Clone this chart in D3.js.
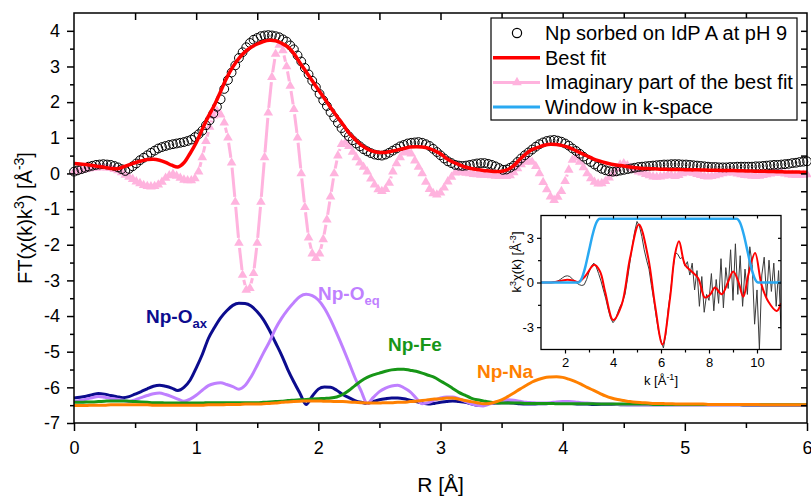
<!DOCTYPE html>
<html>
<head>
<meta charset="utf-8">
<script src="https://cdn.jsdelivr.net/npm/d3@7"></script>
<style>
  body { margin: 0; background: #fff; }
  svg { display: block; font-family: Arial, 'Liberation Sans', sans-serif; }
</style>
</head>
<body>
<div id="wrapper"></div>
<script>
'use strict';

//#region DATA
// R grid of the measured FT (step 0.03 A) and of the fit/paths (step 0.05 A)
const rStepData = 0.03;
const rStepFit = 0.05;

const dataFT = [
  0.05,0.085,0.12,0.155,0.19,0.215,0.24,0.25,0.26,0.25,
  0.24,0.21,0.17,0.12,0.07,0.13,0.20,0.28,0.37,0.44,
  0.51,0.58,0.64,0.70,0.74,0.77,0.80,0.82,0.84,0.86,
  0.88,0.91,0.95,1.02,1.10,1.20,1.35,1.49,1.68,1.87,
  2.08,2.37,2.62,2.83,3.03,3.24,3.40,3.54,3.66,3.75,
  3.80,3.85,3.87,3.88,3.87,3.85,3.82,3.76,3.70,3.59,
  3.48,3.31,3.14,2.96,2.78,2.60,2.42,2.23,2.05,1.89,
  1.72,1.57,1.42,1.27,1.15,1.04,0.93,0.84,0.76,0.68,
  0.62,0.57,0.53,0.51,0.50,0.53,0.58,0.64,0.70,0.76,
  0.80,0.84,0.86,0.87,0.88,0.86,0.82,0.77,0.69,0.60,
  0.51,0.42,0.34,0.29,0.24,0.22,0.21,0.22,0.24,0.26,
  0.28,0.29,0.29,0.27,0.24,0.20,0.15,0.10,0.11,0.16,
  0.22,0.32,0.42,0.51,0.59,0.67,0.75,0.82,0.87,0.91,
  0.93,0.94,0.92,0.89,0.84,0.78,0.70,0.63,0.55,0.47,
  0.39,0.32,0.25,0.19,0.13,0.09,0.06,0.05,0.06,0.08,
  0.10,0.12,0.14,0.16,0.18,0.19,0.20,0.21,0.22,0.23,
  0.24,0.25,0.25,0.26,0.26,0.26,0.25,0.25,0.24,0.23,
  0.22,0.21,0.20,0.19,0.18,0.18,0.17,0.17,0.17,0.18,
  0.18,0.19,0.19,0.19,0.19,0.19,0.20,0.20,0.21,0.22,
  0.23,0.24,0.24,0.25,0.26,0.27,0.29,0.30,0.32,0.33,
  0.34
];

const imagFT = [
  0.05,0.07,0.09,0.11,0.13,0.15,0.16,0.17,0.17,0.16,
  0.15,0.12,0.08,0.03,-0.04,-0.10,-0.16,-0.23,-0.28,-0.33,
  -0.36,-0.37,-0.36,-0.32,-0.24,-0.13,-0.06,-0.02,-0.07,-0.13,
  -0.18,-0.20,-0.20,-0.14,0.05,0.45,0.90,1.30,1.62,1.75,
  1.65,1.42,1.00,0.30,-0.80,-1.95,-2.85,-3.27,-3.22,-2.80,
  -1.95,-0.80,0.45,1.70,2.70,3.35,3.60,3.45,3.00,2.45,
  1.80,1.00,0.00,-0.95,-1.80,-2.25,-2.38,-2.25,-1.85,-1.30,
  -0.65,0.00,0.50,0.82,0.86,0.76,0.60,0.45,0.30,0.18,
  0.05,-0.15,-0.32,-0.45,-0.50,-0.44,-0.27,0.05,0.28,0.45,
  0.58,0.62,0.55,0.36,0.18,0.00,-0.24,-0.44,-0.56,-0.60,
  -0.54,-0.40,-0.23,-0.10,0.02,0.05,0.03,0.01,0.00,-0.02,
  -0.03,-0.04,-0.04,-0.05,-0.06,-0.07,-0.08,-0.08,-0.08,-0.06,
  0.03,0.14,0.25,0.32,0.37,0.32,0.20,0.00,-0.25,-0.45,
  -0.65,-0.75,-0.66,-0.50,-0.22,0.10,0.38,0.44,0.32,0.17,
  0.00,-0.14,-0.24,-0.29,-0.28,-0.22,-0.12,-0.01,0.13,0.24,
  0.28,0.22,0.15,0.09,0.05,0.02,-0.02,-0.06,-0.09,-0.10,
  -0.09,-0.07,-0.05,-0.06,-0.08,-0.05,0.00,0.03,0.03,0.01,
  -0.02,-0.05,-0.08,-0.09,-0.08,-0.06,-0.03,0.00,0.02,0.03,
  0.02,-0.01,-0.03,-0.05,-0.06,-0.07,-0.08,-0.07,-0.05,-0.03,
  -0.01,0.01,0.02,0.01,-0.01,-0.03,-0.04,-0.05,-0.05,-0.04,
  -0.03
];

const fitFT = [
  0.28,0.265,0.25,0.22,0.195,0.17,0.14,0.13,0.18,0.24,
  0.30,0.35,0.39,0.40,0.37,0.31,0.23,0.18,0.30,0.56,
  0.86,1.24,1.60,1.92,2.30,2.68,2.99,3.23,3.41,3.54,
  3.63,3.70,3.735,3.72,3.65,3.55,3.36,3.10,2.85,2.60,
  2.35,2.10,1.85,1.61,1.38,1.14,0.96,0.80,0.69,0.62,
  0.59,0.59,0.62,0.66,0.70,0.74,0.75,0.74,0.71,0.64,
  0.55,0.42,0.32,0.25,0.18,0.14,0.11,0.085,0.07,0.055,
  0.06,0.11,0.22,0.40,0.55,0.67,0.73,0.79,0.82,0.81,
  0.78,0.73,0.65,0.57,0.49,0.41,0.35,0.30,0.26,0.23,
  0.21,0.18,0.16,0.14,0.135,0.13,0.12,0.115,0.11,0.11,
  0.105,0.10,0.10,0.095,0.09,0.09,0.085,0.08,0.08,0.075,
  0.07,0.065,0.06,0.06,0.055,0.05,0.045,0.04,0.04,0.035,
  0.03
];

// single scattering paths, shifted down by the plot
const oaxFT = [
  -6.30,-6.28,-6.25,-6.21,-6.17,-6.19,-6.23,-6.26,-6.29,-6.26,
  -6.19,-6.12,-6.04,-5.97,-5.94,-5.97,-6.02,-6.09,-6.00,-5.80,
  -5.46,-5.08,-4.63,-4.32,-4.05,-3.85,-3.70,-3.64,-3.65,-3.72,
  -3.88,-4.10,-4.40,-4.75,-5.10,-5.50,-5.85,-6.17,-6.48,-6.25,
  -6.05,-5.99,-6.00,-6.08,-6.20,-6.29,-6.37,-6.42,-6.45,-6.40,
  -6.35,-6.32,-6.30,-6.30,-6.32,-6.36,-6.40,-6.44,-6.47,-6.45,
  -6.42,-6.40,-6.38,-6.40,-6.42,-6.46,-6.50,-6.48,-6.45,-6.44,
  -6.43,-6.43,-6.44,-6.46,-6.47,-6.47,-6.46,-6.46,-6.45,-6.44,
  -6.44,-6.45,-6.46,-6.47,-6.47,-6.48,-6.48,-6.48,-6.48,-6.48,
  -6.49,-6.49,-6.49,-6.49,-6.49,-6.49,-6.49,-6.49,-6.49,-6.49,
  -6.49,-6.49,-6.49,-6.49,-6.49,-6.49,-6.49,-6.49,-6.49,-6.49,
  -6.50,-6.50,-6.50,-6.50,-6.50,-6.50,-6.50,-6.50,-6.50,-6.50,
  -6.50
];

const oeqFT = [
  -6.40,-6.37,-6.33,-6.29,-6.26,-6.28,-6.31,-6.33,-6.36,-6.40,
  -6.35,-6.29,-6.23,-6.18,-6.16,-6.20,-6.26,-6.33,-6.39,-6.33,
  -6.22,-6.08,-5.95,-5.89,-5.87,-5.92,-5.98,-6.05,-5.95,-5.70,
  -5.38,-5.04,-4.72,-4.35,-4.06,-3.82,-3.62,-3.45,-3.39,-3.43,
  -3.55,-3.78,-4.10,-4.48,-4.88,-5.30,-5.73,-6.10,-6.45,-6.28,
  -6.12,-6.02,-5.96,-5.94,-6.01,-6.12,-6.30,-6.46,-6.43,-6.36,
  -6.30,-6.27,-6.27,-6.32,-6.39,-6.46,-6.50,-6.52,-6.47,-6.42,
  -6.38,-6.35,-6.36,-6.39,-6.42,-6.43,-6.44,-6.44,-6.43,-6.41,
  -6.40,-6.40,-6.41,-6.43,-6.44,-6.45,-6.46,-6.47,-6.47,-6.48,
  -6.48,-6.49,-6.49,-6.49,-6.49,-6.49,-6.49,-6.49,-6.49,-6.49,
  -6.49,-6.49,-6.49,-6.49,-6.49,-6.49,-6.49,-6.49,-6.49,-6.49,
  -6.50,-6.50,-6.50,-6.50,-6.50,-6.50,-6.50,-6.50,-6.50,-6.50,
  -6.50
];

const feFT = [
  -6.42,-6.42,-6.41,-6.41,-6.40,-6.39,-6.38,-6.38,-6.38,-6.39,
  -6.40,-6.41,-6.42,-6.43,-6.43,-6.44,-6.44,-6.44,-6.44,-6.44,
  -6.44,-6.44,-6.43,-6.43,-6.43,-6.43,-6.43,-6.43,-6.43,-6.43,
  -6.43,-6.42,-6.41,-6.40,-6.39,-6.37,-6.36,-6.35,-6.34,-6.33,
  -6.32,-6.31,-6.30,-6.27,-6.20,-6.09,-5.95,-5.82,-5.72,-5.65,
  -5.60,-5.55,-5.51,-5.49,-5.49,-5.52,-5.55,-5.60,-5.66,-5.72,
  -5.82,-5.92,-6.03,-6.14,-6.22,-6.30,-6.35,-6.38,-6.41,-6.43,
  -6.44,-6.44,-6.44,-6.44,-6.45,-6.45,-6.45,-6.45,-6.45,-6.46,
  -6.46,-6.46,-6.46,-6.46,-6.46,-6.46,-6.47,-6.47,-6.47,-6.47,
  -6.47,-6.47,-6.47,-6.47,-6.47,-6.48,-6.48,-6.48,-6.48,-6.48,
  -6.48,-6.48,-6.48,-6.48,-6.48,-6.48,-6.48,-6.48,-6.48,-6.48,
  -6.49,-6.49,-6.49,-6.49,-6.49,-6.49,-6.49,-6.49,-6.49,-6.49,
  -6.49
];

const naFT = [
  -6.51,-6.51,-6.51,-6.50,-6.50,-6.50,-6.49,-6.49,-6.49,-6.49,
  -6.49,-6.49,-6.49,-6.50,-6.50,-6.50,-6.50,-6.50,-6.50,-6.50,
  -6.50,-6.50,-6.49,-6.49,-6.49,-6.48,-6.48,-6.48,-6.47,-6.47,
  -6.47,-6.46,-6.45,-6.44,-6.42,-6.41,-6.40,-6.39,-6.38,-6.38,
  -6.38,-6.39,-6.39,-6.40,-6.40,-6.41,-6.42,-6.43,-6.44,-6.44,
  -6.44,-6.43,-6.43,-6.42,-6.42,-6.40,-6.39,-6.37,-6.35,-6.33,
  -6.32,-6.30,-6.30,-6.33,-6.37,-6.40,-6.43,-6.46,-6.45,-6.41,
  -6.35,-6.26,-6.16,-6.05,-5.95,-5.85,-5.78,-5.73,-5.71,-5.70,
  -5.72,-5.77,-5.83,-5.91,-6.00,-6.08,-6.16,-6.24,-6.30,-6.34,
  -6.37,-6.40,-6.42,-6.43,-6.44,-6.45,-6.45,-6.46,-6.46,-6.47,
  -6.47,-6.47,-6.47,-6.47,-6.48,-6.48,-6.48,-6.48,-6.48,-6.48,
  -6.48,-6.48,-6.48,-6.49,-6.49,-6.49,-6.49,-6.49,-6.49,-6.49,
  -6.49
];

// inset: k-space data (step 0.1 from k = 1), fit and window
const kStart = 1;
const kStep = 0.1;
const chiData = [
  0,0,0,0,0,0.02,0.05,0.1,0.2,0.32,
  0.42,0.45,0.4,0.25,0.1,-0.05,-0.15,-0.2,-0.15,0.2,
  0.7,1.1,1.3,1.05,0.6,0.1,-0.5,-1.1,-1.8,-2.4,
  -2.7,-2.5,-2.0,-1.6,-1.3,-0.8,0.2,1.3,2.4,3.4,
  4.1,3.8,3.1,2.2,1.5,0.9,-0.2,-1.2,-2.3,-3.3,
  -3.9,-4.4,-3.5,-1.8,-0.6,0.9,2.0,1.9,1.6,1.7,
  1.1,1.4,0.5,1.3,-0.5,0.8,-1.6,0.4,-2.0,-0.8,
  -1.2,0.6,-1.9,0.2,-1.4,1.6,-1.7,1.0,-0.4,2.2,
  -1.2,2.6,-0.8,1.8,-1.6,0.9,-0.8,2.4,1.2,-2.8,
  -0.5,-4.5,0.5,1.7,-1.0,1.5,-0.6,1.3,-1.6,0.8,
  -3.1
];
const chiFitK = [1.0,1.5,1.8,2.1,2.4,2.55,2.83,3.22,3.46,3.67,4.01,4.36,4.71,5.08,5.47,5.75,6.06,6.375,6.58,6.75,7.0,7.28,7.55,7.83,8.04,8.25,8.53,8.8,9.01,9.22,9.43,9.64,9.92,10.19,10.47,10.82,11.0];
const chiFitV = [0,0.02,0.1,0.18,0.1,0.03,0.4,1.19,0.74,-0.6,-2.52,-1.5,1.64,3.9,1.64,-1.5,-4.17,-1.06,1.87,2.77,1.19,0.74,0.29,-1.01,-0.83,-0.34,-0.79,0.07,0.74,0.07,-0.95,0.52,1.98,-0.16,-1.28,-1.91,-1.4];
const windowK = [1, 2.55, 2.7, 2.85, 3.0, 3.15, 3.3, 3.45, 9.15, 9.3, 9.45, 9.6, 9.75, 9.9, 10.05, 11];
const windowV = [0, 0, 0.29, 1.07, 2.14, 3.21, 3.99, 4.28, 4.28, 3.99, 3.21, 2.14, 1.07, 0.29, 0, 0];

const legendLabels = ['Np sorbed on IdP A at pH 9', 'Best fit', 'Imaginary part of the best fit', 'Window in k-space'];
const yTicks = [-7, -6, -5, -4, -3, -2, -1, 0, 1, 2, 3, 4];
const xTicks = [0, 1, 2, 3, 4, 5, 6];
const insetXTicks = [2, 4, 6, 8, 10];
const insetYTicks = [-3, 0, 3];
//#endregion DATA

function drawChart () {
  //#region DIMENSIONS
  const dimensions = {
    width: 811,
    height: 497,
    margin: {top: 13, right: 4, bottom: 74, left: 74}
  };
  dimensions.plotWidth = dimensions.width - dimensions.margin.left - dimensions.margin.right;
  dimensions.plotHeight = dimensions.height - dimensions.margin.top - dimensions.margin.bottom;
  //#endregion DIMENSIONS

  const colours = {
    data: '#000000', fit: '#ff0000', imag: '#ffb3de', window: '#29a9f2',
    oax: '#0c0c8e', oeq: '#bf80ff', fe: '#179617', na: '#ff8000'
  };

  //#region CANVAS
  const wrapper = d3.select('#wrapper')
    .append('svg')
    .attr('width', dimensions.width)
    .attr('height', dimensions.height);

  const plot = wrapper.append('g')
    .attr('transform', `translate(${dimensions.margin.left},${dimensions.margin.top})`);
  //#endregion CANVAS

  //#region SCALES
  const xScale = d3.scaleLinear().domain([0, 6]).range([0, dimensions.plotWidth]);
  const yScale = d3.scaleLinear().domain([-7, 4.5]).range([dimensions.plotHeight, 0]);
  const rData = d3.range(dataFT.length).map(i => i * rStepData);
  const rFit = d3.range(fitFT.length).map(i => i * rStepFit);
  //#endregion SCALES

  //#region DRAW PATHS (components)
  const lineOn = xs => d3.line()
    .x((d, i) => xScale(xs[i]))
    .y(d => yScale(d))
    .curve(d3.curveMonotoneX);

  const paths = [
    {values: oaxFT, colour: colours.oax},
    {values: oeqFT, colour: colours.oeq},
    {values: feFT, colour: colours.fe},
    {values: naFT, colour: colours.na}
  ];
  plot.selectAll('.path-line').data(paths).join('path')
    .attr('class', 'path-line')
    .attr('d', d => lineOn(rFit)(d.values))
    .attr('fill', 'none')
    .attr('stroke', d => d.colour)
    .attr('stroke-width', 3);

  const pathLabel = (x, y, colour, main, sub) => {
    const t = plot.append('text')
      .attr('x', x).attr('y', y)
      .attr('fill', colour)
      .attr('font-weight', 'bold')
      .attr('font-size', 19)
      .text(main);
    if (sub) {
      t.append('tspan').attr('dy', 5).attr('font-size', 13).text(sub);
    }
  };
  pathLabel(72, 310, colours.oax, 'Np-O', 'ax');
  pathLabel(244, 287, colours.oeq, 'Np-O', 'eq');
  pathLabel(314, 338, colours.fe, 'Np-Fe');
  pathLabel(403, 365, colours.na, 'Np-Na');
  //#endregion DRAW PATHS

  //#region DRAW FT DATA
  // imaginary part: line segments broken around each marker
  const gap = 5;
  const imagPts = imagFT.map((v, i) => [xScale(rData[i]), yScale(v)]);
  const segments = d3.pairs(imagPts).map(([a, b]) => {
    const dx = b[0] - a[0], dy = b[1] - a[1];
    const len = Math.hypot(dx, dy);
    if (len <= 2 * gap + 1) return null;
    const ux = dx / len, uy = dy / len;
    return [a[0] + ux * gap, a[1] + uy * gap, b[0] - ux * gap, b[1] - uy * gap];
  }).filter(Boolean);

  plot.selectAll('.imag-seg').data(segments).join('line')
    .attr('class', 'imag-seg')
    .attr('x1', d => d[0]).attr('y1', d => d[1])
    .attr('x2', d => d[2]).attr('y2', d => d[3])
    .attr('stroke', colours.imag)
    .attr('stroke-width', 3);

  const triangle = d3.symbol().type(d3.symbolTriangle).size(40);
  plot.selectAll('.imag-pt').data(imagFT).join('path')
    .attr('class', 'imag-pt')
    .attr('d', triangle)
    .attr('transform', (d, i) => `translate(${xScale(rData[i])},${yScale(d)})`)
    .attr('fill', colours.imag);

  plot.selectAll('.data-pt').data(dataFT).join('circle')
    .attr('class', 'data-pt')
    .attr('cx', (d, i) => xScale(rData[i]))
    .attr('cy', d => yScale(d))
    .attr('r', 4.4)
    .attr('fill', 'none')
    .attr('stroke', colours.data)
    .attr('stroke-width', 1);

  plot.append('path')
    .attr('d', lineOn(rFit).curve(d3.curveCatmullRom)(fitFT))
    .attr('fill', 'none')
    .attr('stroke', colours.fit)
    .attr('stroke-width', 3.5);
  //#endregion DRAW FT DATA

  //#region AXES
  const styleAxis = g => {
    g.select('.domain').remove();
    g.selectAll('line').attr('stroke', '#000').attr('stroke-width', 1.5);
    g.selectAll('text').attr('fill', '#000').attr('font-size', 18).attr('font-family', null);
  };

  plot.append('g')
    .attr('transform', `translate(0,${dimensions.plotHeight})`)
    .call(d3.axisBottom(xScale).tickValues(xTicks).tickSize(8).tickPadding(10).tickFormat(d => String(d)))
    .call(styleAxis);
  plot.append('g')
    .attr('transform', `translate(0,${dimensions.plotHeight})`)
    .call(d3.axisBottom(xScale).tickValues(d3.range(0.5, 6, 1)).tickSize(5).tickFormat(''))
    .call(styleAxis);
  plot.append('g')
    .call(d3.axisLeft(yScale).tickValues(yTicks).tickSize(7).tickPadding(7).tickFormat(d => String(d)))
    .call(styleAxis);
  plot.append('g')
    .call(d3.axisLeft(yScale).tickValues(d3.range(-6.5, 4, 1)).tickSize(4).tickFormat(''))
    .call(styleAxis);
  // mirrored inward ticks
  plot.append('g')
    .call(d3.axisTop(xScale).tickValues(d3.range(0.5, 6, 0.5)).tickSize(-7).tickFormat(''))
    .call(styleAxis);
  plot.append('g')
    .attr('transform', `translate(${dimensions.plotWidth},0)`)
    .call(d3.axisRight(yScale).tickValues(d3.range(-6.5, 4.5, 0.5)).tickSize(-6).tickFormat(''))
    .call(styleAxis);

  plot.append('rect')
    .attr('width', dimensions.plotWidth)
    .attr('height', dimensions.plotHeight)
    .attr('fill', 'none')
    .attr('stroke', '#000')
    .attr('stroke-width', 1.5);

  wrapper.append('text')
    .attr('x', dimensions.margin.left + dimensions.plotWidth / 2)
    .attr('y', 492)
    .attr('text-anchor', 'middle')
    .attr('font-size', 21)
    .text('R [Å]');

  const yLabel = wrapper.append('text')
    .attr('transform', `translate(32,${dimensions.margin.top + dimensions.plotHeight / 2}) rotate(-90)`)
    .attr('text-anchor', 'middle')
    .attr('font-size', 20);
  yLabel.append('tspan').text('FT(χ(k)k');
  yLabel.append('tspan').attr('dy', -8).attr('font-size', 14).text('3');
  yLabel.append('tspan').attr('dy', 8).text(') [Å');
  yLabel.append('tspan').attr('dy', -8).attr('font-size', 14).text('-3');
  yLabel.append('tspan').attr('dy', 8).text(']');
  //#endregion AXES

  //#region LEGEND
  const legend = wrapper.append('g').attr('transform', 'translate(491,18)');
  legend.append('rect')
    .attr('width', 306).attr('height', 102)
    .attr('fill', '#fff').attr('stroke', '#000').attr('stroke-width', 1.2);
  const rowY = i => 15 + i * 24.7;
  legend.selectAll('.legend-text').data(legendLabels).join('text')
    .attr('class', 'legend-text')
    .attr('x', 54)
    .attr('y', (d, i) => rowY(i) + 7)
    .attr('font-size', 20)
    .text(d => d);
  legend.append('circle')
    .attr('cx', 26).attr('cy', rowY(0)).attr('r', 4.6)
    .attr('fill', 'none').attr('stroke', '#000').attr('stroke-width', 1.2);
  legend.append('line')
    .attr('x1', 2).attr('x2', 49).attr('y1', rowY(1)).attr('y2', rowY(1))
    .attr('stroke', colours.fit).attr('stroke-width', 3.5);
  legend.append('line')
    .attr('x1', 2).attr('x2', 49).attr('y1', rowY(2)).attr('y2', rowY(2))
    .attr('stroke', colours.imag).attr('stroke-width', 3);
  legend.append('path')
    .attr('d', triangle)
    .attr('transform', `translate(26,${rowY(2)})`)
    .attr('fill', colours.imag);
  legend.append('line')
    .attr('x1', 2).attr('x2', 49).attr('y1', rowY(3)).attr('y2', rowY(3))
    .attr('stroke', colours.window).attr('stroke-width', 3);
  //#endregion LEGEND

  //#region INSET
  const inset = {left: 541, top: 215.5, width: 240, height: 134};
  const ix = d3.scaleLinear().domain([1, 11]).range([0, inset.width]);
  const iy = d3.scaleLinear().domain([-4.5, 4.5]).range([inset.height, 0]);
  const kData = d3.range(chiData.length).map(i => kStart + i * kStep);

  const ig = wrapper.append('g').attr('transform', `translate(${inset.left},${inset.top})`);
  ig.append('rect').attr('width', inset.width).attr('height', inset.height).attr('fill', '#fff');
  ig.append('clipPath').attr('id', 'inset-clip')
    .append('rect').attr('width', inset.width).attr('height', inset.height);
  const iplot = ig.append('g').attr('clip-path', 'url(#inset-clip)');

  const insetLine = xs => d3.line().x((d, i) => ix(xs[i])).y(d => iy(d));
  iplot.append('path')
    .attr('d', insetLine(kData)(chiData))
    .attr('fill', 'none').attr('stroke', '#3a3a3a').attr('stroke-width', 1);
  iplot.append('path')
    .attr('d', insetLine(chiFitK).curve(d3.curveCatmullRom)(chiFitV))
    .attr('fill', 'none').attr('stroke', colours.fit).attr('stroke-width', 2);
  iplot.append('path')
    .attr('d', insetLine(windowK).curve(d3.curveMonotoneX)(windowV))
    .attr('fill', 'none').attr('stroke', colours.window).attr('stroke-width', 2.5);

  const styleInset = g => {
    g.select('.domain').remove();
    g.selectAll('line').attr('stroke', '#000').attr('stroke-width', 1.2);
    g.selectAll('text').attr('fill', '#000').attr('font-size', 13).attr('font-family', null);
  };
  ig.append('g').attr('transform', `translate(0,${inset.height})`)
    .call(d3.axisBottom(ix).tickValues(insetXTicks).tickSize(4).tickPadding(4).tickFormat(d => String(d)))
    .call(styleInset);
  ig.append('g').attr('transform', `translate(0,${inset.height})`)
    .call(d3.axisBottom(ix).tickValues([3, 5, 7, 9]).tickSize(3).tickFormat(''))
    .call(styleInset);
  ig.append('g')
    .call(d3.axisLeft(iy).tickValues(insetYTicks).tickSize(4).tickPadding(3).tickFormat(d => String(d)))
    .call(styleInset);
  ig.append('g')
    .call(d3.axisLeft(iy).tickValues([-1.5, 1.5]).tickSize(3).tickFormat(''))
    .call(styleInset);
  ig.append('g')
    .call(d3.axisTop(ix).tickValues(d3.range(2, 11, 1)).tickSize(-3).tickFormat(''))
    .call(styleInset);
  ig.append('g').attr('transform', `translate(${inset.width},0)`)
    .call(d3.axisRight(iy).tickValues([-3, -1.5, 0, 1.5, 3]).tickSize(-3).tickFormat(''))
    .call(styleInset);
  ig.append('rect').attr('width', inset.width).attr('height', inset.height)
    .attr('fill', 'none').attr('stroke', '#000').attr('stroke-width', 1.3);

  const ixLabel = ig.append('text')
    .attr('x', inset.width / 2).attr('y', 169)
    .attr('text-anchor', 'middle').attr('font-size', 13);
  ixLabel.append('tspan').text('k [Å');
  ixLabel.append('tspan').attr('dy', -5).attr('font-size', 9).text('-1');
  ixLabel.append('tspan').attr('dy', 5).text(']');

  const iyLabel = ig.append('text')
    .attr('transform', `translate(-20,${262 - inset.top}) rotate(-90)`)
    .attr('text-anchor', 'middle').attr('font-size', 13);
  iyLabel.append('tspan').text('k');
  iyLabel.append('tspan').attr('dy', -5).attr('font-size', 9).text('3');
  iyLabel.append('tspan').attr('dy', 5).text('χ(k) [Å');
  iyLabel.append('tspan').attr('dy', -5).attr('font-size', 9).text('-3');
  iyLabel.append('tspan').attr('dy', 5).text(']');
  //#endregion INSET
}

drawChart();
</script>
</body>
</html>
